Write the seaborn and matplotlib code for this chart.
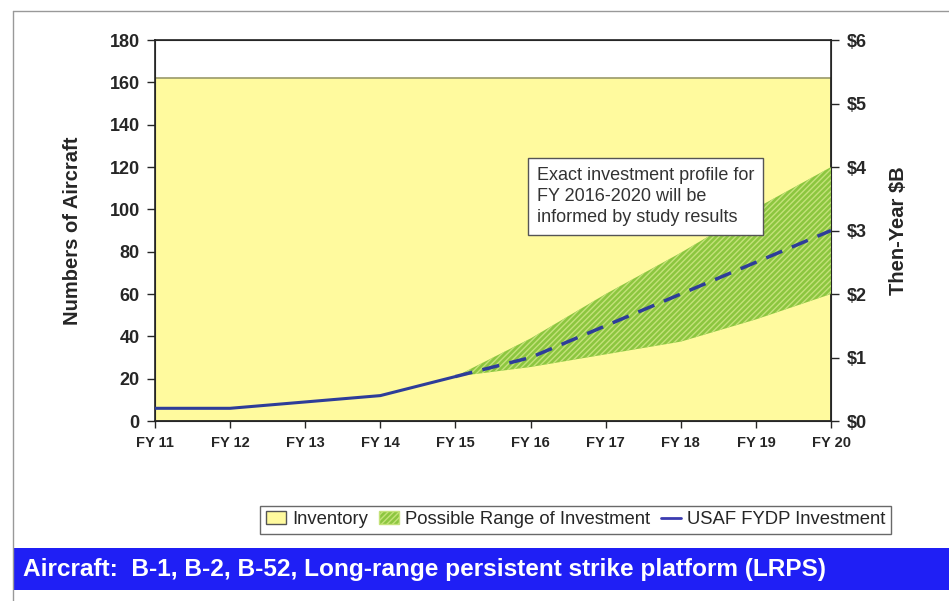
import matplotlib
matplotlib.use("Agg")
import matplotlib.pyplot as plt
import seaborn as sns
import pandas as pd
from matplotlib.patches import Patch, Rectangle
from matplotlib.lines import Line2D

# data
years = [11, 12, 13, 14, 15, 16, 17, 18, 19, 20]
year_labels = ["FY 11", "FY 12", "FY 13", "FY 14", "FY 15",
               "FY 16", "FY 17", "FY 18", "FY 19", "FY 20"]
inventory = [162, 162, 162, 162, 162, 162, 162, 162, 162, 162]
fydp = [0.2, 0.2, 0.3, 0.4, 0.7, 1.0, 1.5, 2.0, 2.5, 3.0]   # $B
band_years = [15, 16, 17, 18, 19, 20]
band_low = [0.7, 0.85, 1.05, 1.25, 1.6, 2.0]
band_high = [0.7, 1.3, 2.0, 2.65, 3.35, 4.0]

sns.set_style("white")
plt.rcParams["font.family"] = ["Liberation Sans", "DejaVu Sans"]
plt.rcParams["hatch.linewidth"] = 1.0

YELLOW = "#FFFA9E"
GREEN = "#8CC63F"
NAVY = "#2E3D99"

fig = plt.figure(figsize=(9.49, 6.01), dpi=100)
ax = fig.add_axes([0.1633, 0.2995, 0.7124, 0.6339])

ax.fill_between(years, 0, inventory, color=YELLOW, edgecolor="#9a9a6a", linewidth=1.2, zorder=1)
ax.set_xlim(11, 20)
ax.set_ylim(0, 180)
ax.set_yticks(range(0, 181, 20))
ax.set_xticks(years)
ax.set_xticklabels(year_labels, fontsize=10.5, fontweight="bold")
ax.tick_params(axis="y", labelsize=13, direction="out", length=6, width=1, left=True, pad=5)
ax.tick_params(axis="x", direction="out", length=5, width=1, bottom=True, pad=6)
for lbl in ax.get_yticklabels():
    lbl.set_fontweight("bold")
ax.set_ylabel("Numbers of Aircraft", fontsize=14.5, fontweight="bold", labelpad=20)
for s in ax.spines.values():
    s.set_color("#222222")
    s.set_linewidth(1.2)

ax2 = ax.twinx()
ax2.set_ylim(0, 6)
ax2.set_yticks(range(0, 7))
ax2.set_yticklabels(["$%d" % v for v in range(0, 7)], fontsize=13, fontweight="bold")
ax2.tick_params(axis="y", direction="out", length=6, width=1, right=True, pad=5)
ax2.set_ylabel("Then-Year $B", fontsize=14.5, fontweight="bold", labelpad=16)

ax2.fill_between(band_years, band_low, band_high, facecolor=GREEN, edgecolor="#C4E27A",
                 hatch="//////", linewidth=0, zorder=2)

df = pd.DataFrame({"year": years, "fydp": fydp})
solid = df[df.year <= 15]
dashed = df[df.year >= 15]
sns.lineplot(data=solid, x="year", y="fydp", ax=ax2, color=NAVY, linewidth=2.2, zorder=3)
sns.lineplot(data=dashed, x="year", y="fydp", ax=ax2, color=NAVY, linewidth=2.5,
             dashes=False, linestyle=(0, (5, 3)), zorder=3)
ax2.set_xlabel("")
ax2.set_xlim(11, 20)

ax2.text(0.565, 0.59, "Exact investment profile for\nFY 2016-2020 will be\ninformed by study results",
         transform=ax2.transAxes, fontsize=13, color="#333333", linespacing=1.3, va="center",
         bbox=dict(boxstyle="square,pad=0.5", facecolor="white", edgecolor="#555555", linewidth=1))

handles = [Patch(facecolor=YELLOW, edgecolor="#555555", label="Inventory"),
           Patch(facecolor=GREEN, edgecolor="#C4E27A", hatch="//////", label="Possible Range of Investment"),
           Line2D([0], [0], color="#3b3bb0", linewidth=2, label="USAF FYDP Investment")]
fig.legend(handles=handles, loc="center", bbox_to_anchor=(0.6065, 0.135), ncol=3, fontsize=13.3,
           frameon=True, fancybox=False, edgecolor="#444444", handlelength=1.1, handletextpad=0.3,
           columnspacing=0.6, borderpad=0.3)

fig.add_artist(Rectangle((0.0137, 0.018), 1.0, 0.07, transform=fig.transFigure,
                         facecolor="#1F1FF5", edgecolor="none"))
fig.text(0.024, 0.053, "Aircraft:  B-1, B-2, B-52, Long-range persistent strike platform (LRPS)",
         color="white", fontsize=17.6, fontweight="bold", va="center")

# outer frame of the slide
fig.add_artist(Line2D([0.0137, 0.0137], [0.0, 0.982], transform=fig.transFigure, color="#999999", linewidth=1))
fig.add_artist(Line2D([0.0137, 1.0], [0.982, 0.982], transform=fig.transFigure, color="#999999", linewidth=1))

fig.savefig("out.png", dpi=100)
